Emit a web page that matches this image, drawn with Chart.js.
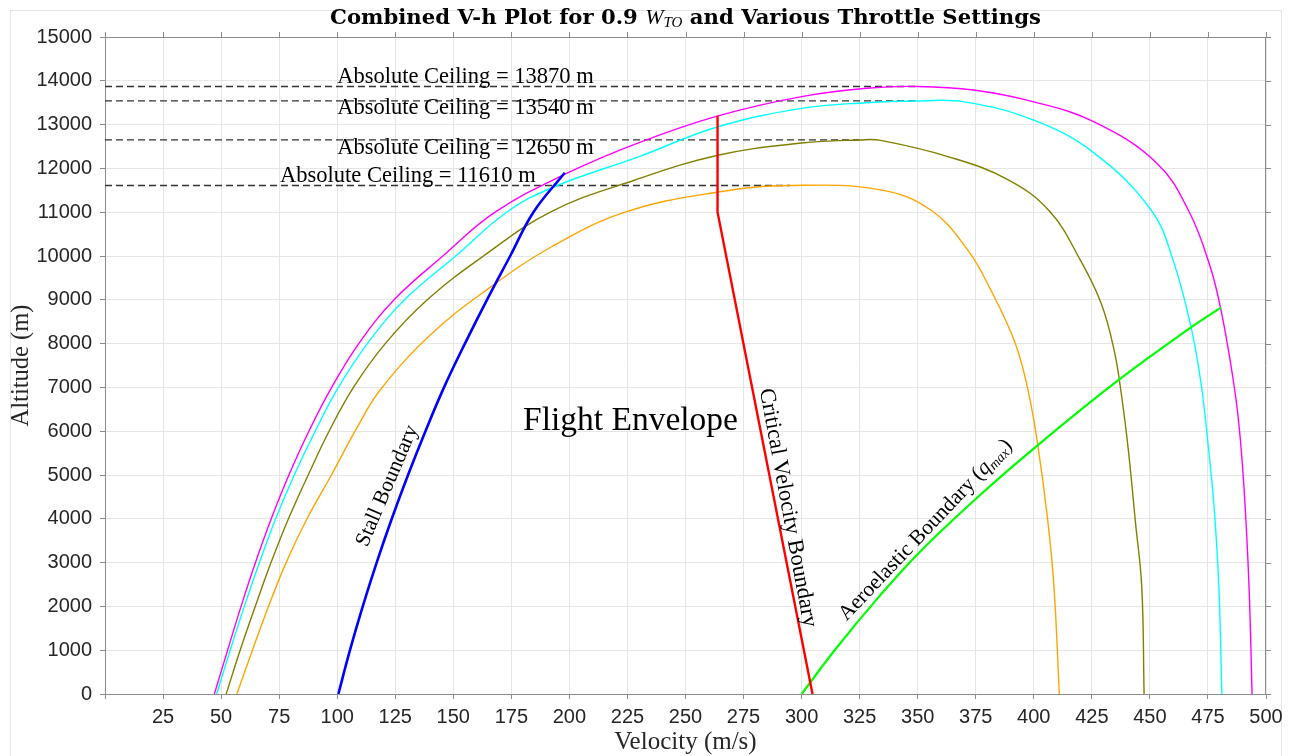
<!DOCTYPE html>
<html lang="en">
<head>
<meta charset="UTF-8">
<title>Combined V-h Plot</title>
<script src="https://cdn.jsdelivr.net/npm/chart.js@4.4.0/dist/chart.umd.min.js"></script>
<style>
  body { margin: 0; background: #fff; }
  canvas { display: block; }
</style>
</head>
<body>
<canvas id="vhChart" width="1294" height="756"></canvas>
<script>
// throttle curves: velocity (m/s) vs altitude (m)
const magentaV = [47.1, 52.8, 58.6, 64.8, 71.6, 79.2, 87.8, 97.6, 109.3, 124.5, 145.5, 168, 199, 230, 264, 300, 328, 350, 374, 400, 426, 453, 467, 476, 480.6, 485, 488, 490.5, 492.7, 494]
const magentaH = [0, 1000, 2000, 3000, 4000, 5000, 6000, 7000, 8000, 9000, 10000, 11000, 11890, 12590, 13200, 13640, 13830, 13870, 13790, 13520, 13060, 12120, 11000, 9750, 8770, 7470, 6330, 4730, 2440, 0]
const cyanV = [48.1, 53.9, 60, 66.5, 73.5, 81.5, 90.5, 100.5, 113, 129, 151, 173, 193, 230, 264, 300, 328, 350, 370, 400, 426, 450.5, 460, 467.7, 472, 475, 477.6, 479.7, 481]
const cyanH = [0, 1000, 2000, 3000, 4000, 5000, 6000, 7000, 8000, 9000, 10000, 11000, 11570, 12270, 12950, 13370, 13500, 13540, 13520, 13100, 12350, 11050, 9900, 8380, 7100, 5730, 4300, 2440, 0]
const oliveV = [52.2, 58.2, 64.7, 71.5, 79, 87.5, 96.5, 107, 120.7, 138.8, 163, 192, 228, 264, 300, 325, 334, 363, 389, 407, 420, 429, 434.6, 438, 440.8, 443.8, 446.5, 447.5]
const oliveH = [0, 1000, 2000, 3000, 4000, 5000, 6000, 7000, 8000, 9000, 10000, 11010, 11730, 12300, 12580, 12650, 12640, 12270, 11740, 11010, 9910, 8920, 7850, 6730, 5530, 3910, 2440, 0]
const orangeV = [56.8, 63.5, 70.4, 78, 87, 97.5, 107.7, 118.5, 141, 166, 192, 224, 264, 295, 334, 355.6, 371.5, 381.5, 392, 397.5, 401.6, 406, 408.7, 411]
const orangeH = [0, 1000, 2000, 3000, 4000, 5000, 6000, 6940, 8240, 9290, 10200, 11000, 11460, 11610, 11510, 11050, 10140, 9220, 8010, 6940, 5730, 3970, 2440, 0]

// boundaries
const stallV = [100.5, 105.5, 111, 117, 123.5, 130.5, 138, 146, 155, 164.5, 174.5, 184.5, 198]
const stallH = [0, 1000, 2000, 3000, 4000, 5000, 6000, 7000, 8000, 9000, 10000, 11000, 11900]
const criticalV = [263.8, 263.8, 304.7]
const criticalH = [13200, 11000, 0]
const aeroV = [300, 315, 333, 351, 377, 401, 436, 468, 480.6]
const aeroH = [0, 1050, 2200, 3250, 4550, 5650, 7150, 8380, 8820]

// absolute ceilings
const ceilings = [13870, 13540, 12650, 11610]
const ceilingEndV = [350, 350, 325, 295]
const ceilingLabelV = [100, 100, 100, 75.4]
const ceilingLabelH = [14090, 13380, 12465, 11830]

const serif = '"Liberation Serif", "DejaVu Serif", serif'
const sans = '"Liberation Sans", Arial, sans-serif'

function pts(vs, hs) {
    return vs.map((v, i) => ({ x: v, y: hs[i] }))
}

function line(data, color, width, extra) {
    return Object.assign({
        data: data,
        borderColor: color,
        borderWidth: width,
        showLine: true,
        pointRadius: 0,
        tension: 0.4,
        fill: false
    }, extra || {})
}

// draws a row of [text, font, dy] pieces
function richText(ctx, parts, x, y, align) {
    let w = 0
    parts.forEach(p => { ctx.font = p[1]; w += ctx.measureText(p[0]).width })
    let cx = align === 'center' ? x - w / 2 : x
    parts.forEach(p => {
        ctx.font = p[1]
        ctx.fillText(p[0], cx, y + (p[2] || 0))
        cx += ctx.measureText(p[0]).width
    })
}

const datasets = []
datasets.push(line(pts(stallV, stallH), '#0000ff', 2.6))
datasets.push(line(pts(criticalV, criticalH), '#ff0000', 2.4, { tension: 0 }))
datasets.push(line(pts(aeroV, aeroH), '#00ff00', 2.2))
datasets.push(line(pts(magentaV, magentaH), '#ff00ff', 1.4))
datasets.push(line(pts(cyanV, cyanH), '#00ffff', 1.4))
datasets.push(line(pts(oliveV, oliveH), '#808000', 1.4))
datasets.push(line(pts(orangeV, orangeH), '#ffa500', 1.4))
ceilings.forEach((c, i) => {
    datasets.push(line(pts([0, ceilingEndV[i]], [c, c]), '#333333', 1.3, { tension: 0, borderDash: [7, 4] }))
})

const decorations = {
    id: 'decorations',
    beforeDraw(chart) {
        const ctx = chart.ctx
        ctx.save()
        ctx.fillStyle = '#fff'
        ctx.fillRect(0, 0, chart.width, chart.height)
        ctx.strokeStyle = '#e4e4e4'
        ctx.lineWidth = 1
        ctx.strokeRect(10.5, 10.5, 1271, 760)
        ctx.restore()
    },
    afterDatasetsDraw(chart) {
        const ctx = chart.ctx
        const x = chart.scales.x, y = chart.scales.y
        const a = chart.chartArea
        ctx.save()
        ctx.fillStyle = '#000'
        ctx.textBaseline = 'middle'
        ctx.textAlign = 'left'

        ceilings.forEach((c, i) => {
            ctx.font = `22.5px ${serif}`
            ctx.fillText(`Absolute Ceiling = ${c} m`, x.getPixelForValue(ceilingLabelV[i]), y.getPixelForValue(ceilingLabelH[i]))
        })

        richText(ctx, [['Flight Envelope', `33.5px ${serif}`]], x.getPixelForValue(226.3), y.getPixelForValue(6233), 'center')

        const rotated = (parts, v, h, deg) => {
            ctx.save()
            ctx.translate(x.getPixelForValue(v), y.getPixelForValue(h))
            ctx.rotate(deg * Math.PI / 180)
            richText(ctx, parts, 0, 0, 'center')
            ctx.restore()
        }
        rotated([['Stall Boundary', `21.5px ${serif}`]], 121.6, 4750, -67)
        rotated([['Critical Velocity Boundary', `22.5px ${serif}`]], 294, 4250, 79.5)
        rotated([
            ['Aeroelastic Boundary (', `21.5px ${serif}`],
            ['q', `italic 21.5px ${serif}`],
            ['max', `italic 14px ${serif}`, 5],
            [')', `21.5px ${serif}`]
        ], 353.4, 3744, -46.5)

        // top and right axis lines with outward ticks
        ctx.strokeStyle = '#8c8c8c'
        ctx.lineWidth = 1
        ctx.beginPath()
        ctx.moveTo(a.left, a.top + 0.5)
        ctx.lineTo(a.right, a.top + 0.5)
        ctx.moveTo(a.right - 0.5, a.top)
        ctx.lineTo(a.right - 0.5, a.bottom)
        x.ticks.forEach(t => {
            const px = Math.round(x.getPixelForValue(t.value)) + 0.5
            ctx.moveTo(px, a.top)
            ctx.lineTo(px, a.top - 5)
        })
        y.ticks.forEach(t => {
            const py = Math.round(y.getPixelForValue(t.value)) + 0.5
            ctx.moveTo(a.right, py)
            ctx.lineTo(a.right + 5, py)
        })
        ctx.stroke()
        ctx.restore()
    },
    afterDraw(chart) {
        const ctx = chart.ctx
        const a = chart.chartArea
        const cx = (a.left + a.right) / 2
        const titleSerif = '"DejaVu Serif", "Liberation Serif", serif'
        ctx.save()
        ctx.fillStyle = '#000'
        ctx.textBaseline = 'middle'
        richText(ctx, [
            ['Combined V-h Plot for 0.9 ', `bold 21.2px ${titleSerif}`],
            ['W', `italic 22px ${serif}`],
            ['TO', `italic 15px ${serif}`, 5],
            [' and Various Throttle Settings', `bold 21.2px ${titleSerif}`]
        ], cx, 18, 'center')

        ctx.fillStyle = '#262626'
        richText(ctx, [['Velocity (m/s)', `25px ${serif}`]], cx, 742, 'center')
        ctx.translate(22, (a.top + a.bottom) / 2)
        ctx.rotate(-Math.PI / 2)
        richText(ctx, [['Altitude (m)', `24.5px ${serif}`]], 0, 0, 'center')
        ctx.restore()
    }
}

new Chart(document.getElementById('vhChart').getContext('2d'), {
    type: 'scatter',
    data: { datasets: datasets },
    options: {
        responsive: false,
        animation: false,
        layout: { padding: { top: 37, right: 28, left: 0, bottom: 0 } },
        plugins: { legend: { display: false }, tooltip: { enabled: false }, title: { display: false } },
        scales: {
            x: {
                type: 'linear',
                min: 0,
                max: 500,
                afterFit: s => { s.height = 62 },
                border: { color: '#8c8c8c', width: 1 },
                grid: { color: '#e6e6e6', tickColor: '#8c8c8c', tickLength: 5 },
                ticks: {
                    stepSize: 25,
                    autoSkip: false,
                    maxRotation: 0,
                    padding: 6,
                    color: '#262626',
                    font: { family: sans, size: 20 },
                    callback: v => v === 0 ? '' : v
                }
            },
            y: {
                type: 'linear',
                min: 0,
                max: 15000,
                afterFit: s => { s.width = 105 },
                border: { color: '#8c8c8c', width: 1 },
                grid: { color: '#e6e6e6', tickColor: '#8c8c8c', tickLength: 5 },
                ticks: {
                    stepSize: 1000,
                    autoSkip: false,
                    padding: 8,
                    color: '#262626',
                    font: { family: sans, size: 20 },
                    callback: v => v
                }
            }
        }
    },
    plugins: [decorations]
})
</script>
</body>
</html>
